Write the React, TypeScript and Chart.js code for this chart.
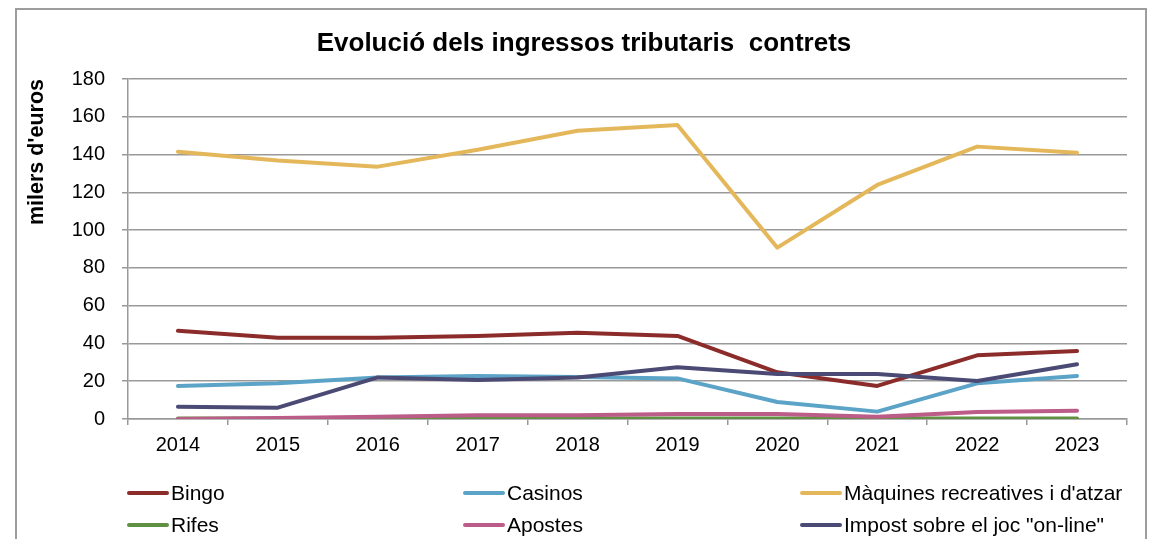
import React, { useEffect, useRef } from "react";
import { Chart, registerables } from "chart.js";

Chart.register(...registerables);

const years = ["2014", "2015", "2016", "2017", "2018", "2019", "2020", "2021", "2022", "2023"];
const bingo = [46.7, 43, 43, 44, 45.7, 44, 24.7, 17.5, 33.7, 36];
const casinos = [17.5, 18.9, 22, 22.8, 22.2, 21.5, 9, 3.9, 18.9, 22.8];
const maquines = [141.5, 136.8, 133.6, 142.5, 152.6, 155.6, 90.7, 123.9, 144.2, 141];
const rifes = [0.3, 0.3, 0.3, 0.3, 0.3, 0.3, 0.3, 0.3, 0.3, 0.3];
const apostes = [0, 0.5, 1.2, 2, 2, 2.6, 2.6, 1.2, 3.7, 4.4];
const online = [6.5, 6, 22, 20.6, 22, 27.4, 23.8, 23.8, 20.1, 29];
const yTicks = [0, 20, 40, 60, 80, 100, 120, 140, 160, 180];

const seriesNames = [
  "Bingo",
  "Casinos",
  "Màquines recreatives i d'atzar",
  "Rifes",
  "Apostes",
  'Impost sobre el joc "on-line"',
];
const seriesData = [bingo, casinos, maquines, rifes, apostes, online];
const seriesColors = ["#8b2c2b", "#5ba3c7", "#e4b85a", "#609143", "#bc5c88", "#4b4a74"];

const titleText = "Evolució dels ingressos tributaris  contrets";
const yTitleText = "milers d'euros";

const FONT = "'Liberation Sans', Arial, sans-serif";

const framePlugin = {
  id: "frameAndTexts",
  beforeDraw(chart: any) {
    const ctx = chart.ctx;
    ctx.save();
    ctx.fillStyle = "#ffffff";
    ctx.fillRect(0, 0, chart.width, chart.height);
    ctx.strokeStyle = "#9d9d9d";
    ctx.lineWidth = 2;
    ctx.strokeRect(16, 9, 1130, 600);
    ctx.restore();
  },
  afterDraw(chart: any) {
    const ctx = chart.ctx;
    ctx.save();
    // title
    ctx.fillStyle = "#000000";
    ctx.font = `bold 26px ${FONT}`;
    ctx.textAlign = "center";
    ctx.textBaseline = "middle";
    ctx.fillText(titleText, 584, 44);
    // legend
    const cols = [127, 463, 800];
    const rows = [493, 525];
    ctx.font = `21px ${FONT}`;
    ctx.textAlign = "left";
    chart.data.datasets.forEach((ds: any, i: number) => {
      const x = cols[i % 3];
      const y = rows[Math.floor(i / 3)];
      ctx.strokeStyle = ds.borderColor;
      ctx.lineWidth = 4;
      ctx.lineCap = "round";
      ctx.beginPath();
      ctx.moveTo(x + 2, y);
      ctx.lineTo(x + 40, y);
      ctx.stroke();
      ctx.fillStyle = "#000000";
      ctx.fillText(ds.label, x + 44, y + 1);
    });
    ctx.restore();
  },
};

export default function App() {
  const ref = useRef<HTMLCanvasElement>(null);
  useEffect(() => {
    if (!ref.current) return;
    const chart = new Chart(ref.current, {
      type: "line",
      data: {
        labels: years,
        datasets: seriesNames.map((name, i) => ({
          label: name,
          data: seriesData[i],
          borderColor: seriesColors[i],
          backgroundColor: seriesColors[i],
          borderWidth: 4,
          pointRadius: 0,
          tension: 0,
          borderCapStyle: "round",
          borderJoinStyle: "round",
          order: 6 - i,
        })),
      },
      options: {
        animation: false,
        responsive: false,
        devicePixelRatio: 1,
        layout: { padding: { left: 0, right: 26, top: 79, bottom: 70 } },
        plugins: {
          legend: { display: false },
          title: { display: false },
          tooltip: { enabled: false },
        },
        scales: {
          x: {
            offset: true,
            grid: {
              offset: true,
              drawOnChartArea: false,
              drawTicks: true,
              tickLength: 6,
              color: "#999999",
              lineWidth: 1.5,
            },
            border: { display: true, color: "#999999", width: 1.5 },
            ticks: {
              color: "#000000",
              font: { family: FONT, size: 20 },
              padding: 8,
              maxRotation: 0,
            },
            afterFit(scale: any) {
              scale.height = 50;
            },
          },
          y: {
            min: 0,
            max: 180,
            afterBuildTicks(scale: any) {
              scale.ticks = yTicks.map((v) => ({ value: v }));
            },
            grid: {
              color: "#999999",
              lineWidth: 1.5,
              drawTicks: true,
              tickLength: 6,
            },
            border: { display: true, color: "#999999", width: 1.5 },
            ticks: {
              color: "#000000",
              font: { family: FONT, size: 20 },
              padding: 17,
            },
            title: {
              display: true,
              text: yTitleText,
              align: "end",
              color: "#000000",
              font: { family: FONT, size: 21.5, weight: "bold" },
              padding: { top: 24, bottom: 0 },
            },
            afterFit(scale: any) {
              scale.width = 128;
            },
          },
        },
      },
      plugins: [framePlugin],
    } as any);
    return () => chart.destroy();
  }, []);
  return (
    <canvas
      ref={ref}
      width={1153}
      height={539}
      style={{ position: "fixed", left: 0, top: 0, width: 1153, height: 539 }}
    />
  );
}
